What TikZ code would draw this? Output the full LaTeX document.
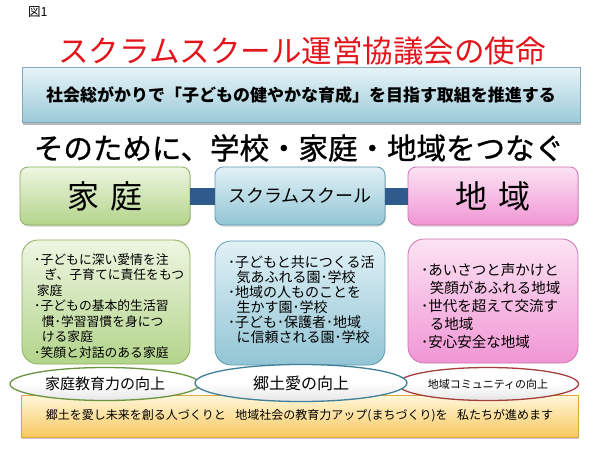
\documentclass[tikz,border=0pt]{standalone}
\usepackage{fontspec}
\setmainfont{Noto Sans CJK JP}
\newfontfamily\heavyjp{Noto Sans CJK JP}[FakeBold=0.9]
\usetikzlibrary{shadows,shapes.geometric}
\definecolor{titlered}{HTML}{E3141B}
\definecolor{misT}{HTML}{E6F3F7}
\definecolor{misB}{HTML}{9CCAD8}
\definecolor{misD}{HTML}{7FA8B8}
\definecolor{greenT}{HTML}{EEF6E2}
\definecolor{greenB}{HTML}{B3D48A}
\definecolor{greenD}{HTML}{8DAF5E}
\definecolor{blueT}{HTML}{E1F1F6}
\definecolor{blueB}{HTML}{92C5D5}
\definecolor{blueD}{HTML}{5E9BB0}
\definecolor{pinkT}{HTML}{FCE3F3}
\definecolor{pinkB}{HTML}{F096D4}
\definecolor{pinkD}{HTML}{CF73B4}
\definecolor{barblue}{HTML}{2E5A8C}
\definecolor{yelT}{HTML}{FFF7DA}
\definecolor{yelB}{HTML}{F8C860}
\definecolor{yelD}{HTML}{DDA740}
\definecolor{homeE}{HTML}{6C9440}
\definecolor{scrumE}{HTML}{3F8097}
\definecolor{regionE}{HTML}{A63F3C}
\tikzset{
  hdr/.style={rectangle, rounded corners=8pt, minimum width=170pt, minimum height=58pt, line width=0.8pt,
    drop shadow={shadow xshift=0.8pt, shadow yshift=-1.5pt, opacity=0.35}},
  cbox/.style={rectangle, rounded corners=16pt, minimum height=124pt, line width=0.8pt},
  oval/.style={ellipse, line width=1.3pt, inner sep=0pt,
    top color=white, bottom color=white!90!black, middle color=white},
  btext/.style={align=left, anchor=north west, inner sep=0pt},
  bar/.style={line width=17pt, draw=barblue}
}
\begin{document}
\begin{tikzpicture}[x=1pt,y=-1pt]
\useasboundingbox[fill=white] (0,0) rectangle (600,450);
% label
\node[anchor=west, inner sep=0pt, font=\fontsize{12.5}{12.5}\selectfont] (fig) at (28,12) {図1};
% mission box
\node[rectangle, minimum width=558pt, minimum height=55pt, top color=misT, bottom color=misB, draw=misD,
  line width=0.6pt, drop shadow={shadow xshift=0.5pt, shadow yshift=-2.5pt, opacity=0.55},
  font=\fontsize{17}{17}\selectfont\bfseries] (mission) at (301,95)
  {社会総がかりで「子どもの健やかな育成」を目指す取組を推進する};
% title
\node[text=titlered, inner sep=0pt, font=\fontsize{30.5}{30.5}\selectfont] (title) at (302,51) {スクラムスクール運営協議会の使命};
% heading
\node[inner sep=0pt, font=\fontsize{29.5}{29.5}\heavyjp] (heading) at (299,148) {そのために、学校・家庭・地域をつなぐ};
% header boxes
\node[hdr, top color=greenT, bottom color=greenB, draw=greenD, font=\fontsize{32}{32}\selectfont] (home) at (105,196) {家\hspace{0.35em}庭};
\node[hdr, top color=blueT, bottom color=blueB, draw=blueD, font=\fontsize{18}{18}\selectfont] (scrum) at (300,196) {スクラムスクール};
\node[hdr, top color=pinkT, bottom color=pinkB, draw=pinkD, font=\fontsize{32}{32}\selectfont] (region) at (493,196) {地\hspace{0.35em}域};
\draw[bar] (home.east) -- (scrum.west);
\draw[bar] (scrum.east) -- (region.west);
% bottom box
\node[rectangle, minimum width=557pt, minimum height=42pt, top color=yelT, bottom color=yelB, draw=yelD, line width=0.6pt,
  drop shadow={shadow xshift=0.5pt, shadow yshift=-2pt, opacity=0.4},
  font=\fontsize{12}{12}\selectfont] (bottom) at (299.5,416)
  {郷土を愛し未来を創る人づくりと\hspace{0.8em}地域社会の教育力アップ(まちづくり)を\hspace{0.8em}私たちが進めます};
% content boxes
\node[cbox, minimum width=168pt, top color=greenT, bottom color=greenB, draw=greenD] (homec) at (106,302) {};
\node[cbox, minimum width=170pt, top color=blueT, bottom color=blueB, draw=blueD] (scrumc) at (300,303) {};
\node[cbox, minimum width=170pt, top color=pinkT, bottom color=pinkB, draw=pinkD] (regionc) at (493,301) {};
\node[btext, font=\fontsize{12.8}{15.5}\selectfont] (homet) at (34,253.5)
  {･子どもに深い愛情を注\\\hspace*{0.8em}ぎ、子育てに責任をもつ\\\hspace*{0.2em}家庭\\･子どもの基本的生活習\\\hspace*{0.6em}慣･学習習慣を身につ\\\hspace*{0.6em}ける家庭\\･笑顔と対話のある家庭};
\node[btext, font=\fontsize{14}{14.9}\selectfont] (scrumt) at (228,256)
  {･子どもと共につくる活\\\hspace*{0.6em}気あふれる園･学校\\･地域の人ものことを\\\hspace*{0.6em}生かす園･学校\\･子ども･保護者･地域\\\hspace*{0.6em}に信頼される園･学校};
\node[btext, font=\fontsize{14.5}{18}\selectfont] (regiont) at (421,263)
  {･あいさつと声かけと\\\hspace*{0.6em}笑顔があふれる地域\\･世代を超えて交流す\\\hspace*{0.6em}る地域\\･安心安全な地域};
% ovals
\node[oval, draw=regionE, minimum width=181pt, minimum height=33pt, font=\fontsize{11}{11}\selectfont] (regiono) at (488,384) {地域コミュニティの向上};
\node[oval, draw=homeE, minimum width=190pt, minimum height=33pt, font=\fontsize{15}{15}\selectfont] (homeo) at (105,384) {家庭教育力の向上};
\node[oval, draw=scrumE, minimum width=212pt, minimum height=37pt, font=\fontsize{16}{16}\selectfont] (scrumo) at (301,383) {郷土愛の向上};
\end{tikzpicture}
\end{document}
